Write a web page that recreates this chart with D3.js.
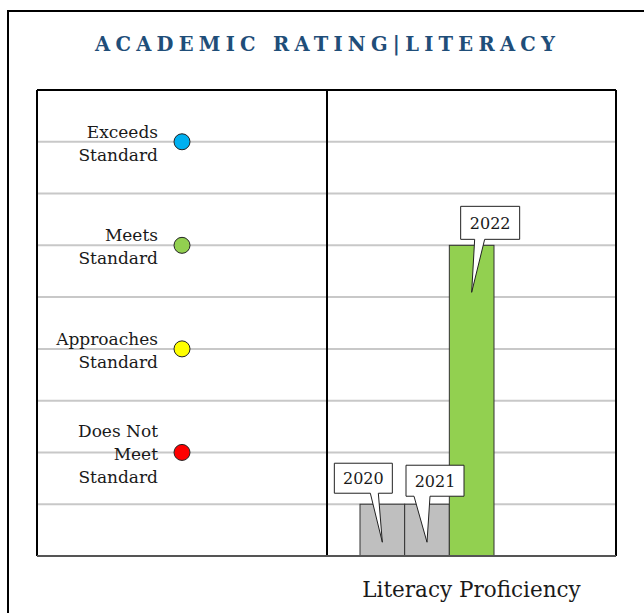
<!DOCTYPE html>
<html>
<head>
<meta charset="utf-8">
<script src="https://cdn.jsdelivr.net/npm/d3@7"></script>
<style>
  html, body { margin: 0; padding: 0; background: #ffffff; }
  svg { display: block; }
</style>
</head>
<body>
<script>
// ---- Data ----
const titleText = "ACADEMIC RATING|LITERACY";
const xAxisTitle = "Literacy Proficiency";
const ratingLabels = [["Exceeds", "Standard"], ["Meets", "Standard"], ["Approaches", "Standard"], ["Does Not", "Meet", "Standard"]];
const ratingValues = [8, 6, 4, 2];
const ratingColors = ["#00b0f0", "#92d050", "#ffff00", "#ff0000"];
const years = ["2020", "2021", "2022"];
const yearValues = [1, 1, 6];
const barColors = ["#bfbfbf", "#bfbfbf", "#92d050"];
const gridTicks = [1, 2, 3, 4, 5, 6, 7, 8];

// ---- Layout ----
const W = 644, H = 613;
const plot = { left: 37, right: 616, top: 90, bottom: 556, divider: 327 };
const barRange = [360, 494];
const dotX = 182, labelX = 158;
// callout geometry relative to the bar's top-centre (tip) and to the tip (box)
const calloutLayout = [
  { tipDy: 38, bx: -48, by: -79, w: 58, h: 30, b0: 36, b1: 44 },
  { tipDy: 38, bx: -21, by: -77, w: 58, h: 31, b0: 8, b1: 24 },
  { tipDy: 47, bx: -11, by: -86, w: 59, h: 33, b0: 14, b1: 24 }
];

const serif = "'DejaVu Serif', serif";

const svg = d3.select("body").append("svg").attr("width", W).attr("height", H);

// outer frame
svg.append("rect").attr("x", 8).attr("y", 11).attr("width", W + 20).attr("height", H + 20)
  .attr("fill", "none").attr("stroke", "#000").attr("stroke-width", 2);

// title
svg.append("text").attr("x", 325).attr("y", 51).attr("text-anchor", "middle")
  .attr("font-family", serif).attr("font-weight", "bold").attr("font-size", 19.5)
  .attr("fill", "#1f4e79")
  .attr("textLength", 460).attr("lengthAdjust", "spacing")
  .text(titleText);

// scales
const y = d3.scaleLinear().domain([0, 9]).range([plot.bottom, plot.top]);
const x = d3.scaleBand().domain(years).range(barRange).padding(0);

// grid lines
svg.append("g").selectAll("line").data(gridTicks).join("line")
  .attr("x1", plot.left).attr("x2", plot.right)
  .attr("y1", d => y(d)).attr("y2", d => y(d))
  .attr("stroke", "#c8c8c8").attr("stroke-width", 2);

// rating dots and labels
const rg = svg.append("g");
ratingValues.forEach((v, i) => {
  const cy = y(v);
  const lines = ratingLabels[i];
  const first = cy + 7.5 - (lines.length - 1) * 11.5;
  const t = rg.append("text").attr("text-anchor", "end")
    .attr("font-family", serif).attr("font-size", 17).attr("fill", "#1a1a1a");
  lines.forEach((ln, j) => {
    t.append("tspan").attr("x", labelX).attr("y", first + j * 23).text(ln);
  });
  rg.append("circle").attr("cx", dotX).attr("cy", cy).attr("r", 8)
    .attr("fill", ratingColors[i]).attr("stroke", "#222").attr("stroke-width", 1);
});

// bars
svg.append("g").selectAll("rect").data(years).join("rect")
  .attr("x", d => x(d)).attr("width", x.bandwidth())
  .attr("y", (d, i) => y(yearValues[i]))
  .attr("height", (d, i) => y(0) - y(yearValues[i]))
  .attr("fill", (d, i) => barColors[i])
  .attr("stroke", "#333").attr("stroke-width", 1);

// callouts
const cg = svg.append("g");
years.forEach((yr, i) => {
  const L = calloutLayout[i];
  const tx = x(yr) + x.bandwidth() / 2;
  const ty = y(yearValues[i]) + L.tipDy;
  const bx = tx + L.bx, by = ty + L.by;
  const p = d3.path();
  p.moveTo(bx, by);
  p.lineTo(bx + L.w, by);
  p.lineTo(bx + L.w, by + L.h);
  p.lineTo(bx + L.b1, by + L.h);
  p.lineTo(tx, ty);
  p.lineTo(bx + L.b0, by + L.h);
  p.lineTo(bx, by + L.h);
  p.closePath();
  cg.append("path").attr("d", p.toString()).attr("fill", "#fff")
    .attr("stroke", "#222").attr("stroke-width", 1).attr("stroke-linejoin", "miter");
  cg.append("text").attr("x", bx + L.w / 2).attr("y", by + L.h / 2 + 6)
    .attr("text-anchor", "middle").attr("font-family", serif).attr("font-size", 16)
    .attr("fill", "#1a1a1a").text(yr);
});

// plot borders
svg.append("line").attr("x1", plot.left).attr("x2", plot.right).attr("y1", plot.top).attr("y2", plot.top)
  .attr("stroke", "#000").attr("stroke-width", 2);
svg.append("line").attr("x1", plot.left).attr("x2", plot.left).attr("y1", plot.top).attr("y2", plot.bottom)
  .attr("stroke", "#000").attr("stroke-width", 2);
svg.append("line").attr("x1", plot.right).attr("x2", plot.right).attr("y1", plot.top).attr("y2", plot.bottom)
  .attr("stroke", "#000").attr("stroke-width", 2);
svg.append("line").attr("x1", plot.divider).attr("x2", plot.divider).attr("y1", plot.top).attr("y2", plot.bottom)
  .attr("stroke", "#000").attr("stroke-width", 2);
svg.append("line").attr("x1", plot.left).attr("x2", plot.right).attr("y1", plot.bottom).attr("y2", plot.bottom)
  .attr("stroke", "#555").attr("stroke-width", 2);

// x axis title
svg.append("text").attr("x", (plot.divider + plot.right) / 2).attr("y", 597)
  .attr("text-anchor", "middle").attr("font-family", serif).attr("font-size", 21.5)
  .attr("fill", "#1a1a1a").text(xAxisTitle);
</script>
</body>
</html>
